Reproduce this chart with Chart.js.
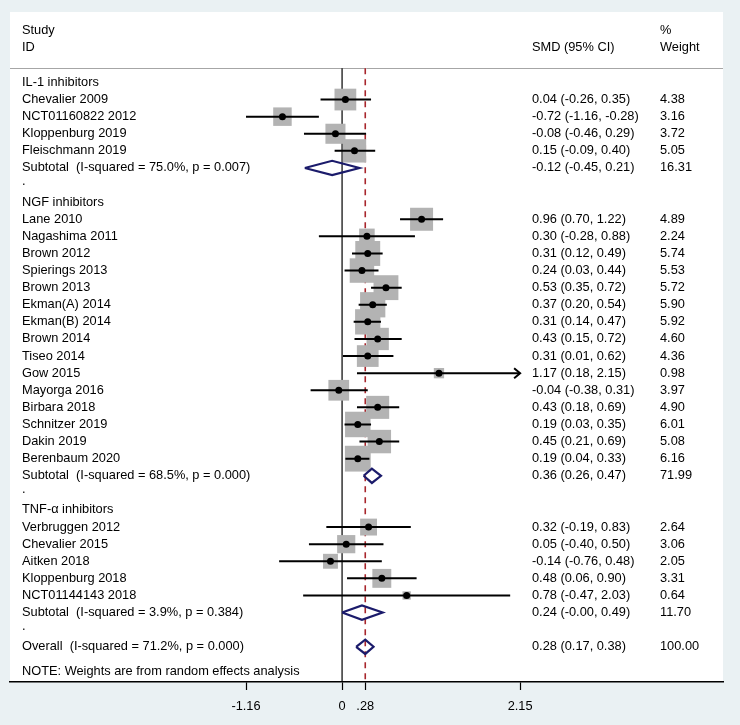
<!DOCTYPE html>
<html>
<head>
<meta charset="utf-8">
<script src="https://cdn.jsdelivr.net/npm/chart.js@4"></script>
<style>
  html, body { margin: 0; padding: 0; background: #eaf1f3; }
  canvas { display: block; }
</style>
</head>
<body>
<canvas id="forest" width="740" height="725"></canvas>
<script>
// 分组
const groupNames = ['IL-1 inhibitors', 'NGF inhibitors', 'TNF-α inhibitors'];
const subtotalLabels = [
    'Subtotal  (I-squared = 75.0%, p = 0.007)',
    'Subtotal  (I-squared = 68.5%, p = 0.000)',
    'Subtotal  (I-squared = 3.9%, p = 0.384)'
];
const subSmd = [-0.12, 0.36, 0.24];
const subLo = [-0.45, 0.26, -0.00];
const subHi = [0.21, 0.47, 0.49];
const subWeight = [16.31, 71.99, 11.70];

// 各研究
const studyNames = [
    'Chevalier 2009', 'NCT01160822 2012', 'Kloppenburg 2019', 'Fleischmann 2019',
    'Lane 2010', 'Nagashima 2011', 'Brown 2012', 'Spierings 2013', 'Brown 2013',
    'Ekman(A) 2014', 'Ekman(B) 2014', 'Brown 2014', 'Tiseo 2014', 'Gow 2015',
    'Mayorga 2016', 'Birbara 2018', 'Schnitzer 2019', 'Dakin 2019', 'Berenbaum 2020',
    'Verbruggen 2012', 'Chevalier 2015', 'Aitken 2018', 'Kloppenburg 2018', 'NCT01144143 2018'
];
const studyGroup = [0, 0, 0, 0, 1, 1, 1, 1, 1, 1, 1, 1, 1, 1, 1, 1, 1, 1, 1, 2, 2, 2, 2, 2];
const smd = [0.04, -0.72, -0.08, 0.15, 0.96, 0.30, 0.31, 0.24, 0.53, 0.37, 0.31, 0.43, 0.31, 1.17, -0.04, 0.43, 0.19, 0.45, 0.19, 0.32, 0.05, -0.14, 0.48, 0.78];
const lo = [-0.26, -1.16, -0.46, -0.09, 0.70, -0.28, 0.12, 0.03, 0.35, 0.20, 0.14, 0.15, 0.01, 0.18, -0.38, 0.18, 0.03, 0.21, 0.04, -0.19, -0.40, -0.76, 0.06, -0.47];
const hi = [0.35, -0.28, 0.29, 0.40, 1.22, 0.88, 0.49, 0.44, 0.72, 0.54, 0.47, 0.72, 0.62, 2.15, 0.31, 0.69, 0.35, 0.69, 0.33, 0.83, 0.50, 0.48, 0.90, 2.03];
const weight = [4.38, 3.16, 3.72, 5.05, 4.89, 2.24, 5.74, 5.53, 5.72, 5.90, 5.92, 4.60, 4.36, 0.98, 3.97, 4.90, 6.01, 5.08, 6.16, 2.64, 3.06, 2.05, 3.31, 0.64];

// 合并结果
const overallLabel = 'Overall  (I-squared = 71.2%, p = 0.000)';
const overallSmd = 0.28;
const overallLo = 0.17;
const overallHi = 0.38;
const overallWeight = 100.00;
const noteText = 'NOTE: Weights are from random effects analysis';

// 坐标轴刻度
const tickVals = [-1.16, 0, 0.28, 2.15];
const tickLabels = ['-1.16', '0', '.28', '2.15'];

const FONT = "'Liberation Sans', Arial, sans-serif";
const FONT_SIZE = 12.8;
const COL_STUDY = 22, COL_CI = 532, COL_W = 660;

// 行号
const headRow = [], subRow = [], dotRow = [], studyRow = [];
let r = 0;
groupNames.forEach((g, gi) => {
    headRow.push(r++);
    studyGroup.forEach((sg, si) => { if (sg === gi) studyRow[si] = r++; });
    subRow.push(r++);
    dotRow.push(r++);
});
const overallRow = r;
const noteRow = overallRow + 1.45;
const sepRow = -0.83;
const Y_MIN = -4.12, Y_MAX = 35.06;

function fmt(v) {
    return (Object.is(v, -0) ? '-' : '') + v.toFixed(2);
}
function ciText(e, l, h) {
    return `${fmt(e)} (${fmt(l)}, ${fmt(h)})`;
}
const boxSide = w => 10.4 * Math.sqrt(w);

const sumEst = subSmd.concat([overallSmd]);
const sumLo = subLo.concat([overallLo]);
const sumHi = subHi.concat([overallHi]);
const sumRow = subRow.concat([overallRow]);
const DH = 0.42;

const panelPlugin = {
    id: 'panel',
    beforeDraw(chart) {
        const { ctx, chartArea: a, scales: { y } } = chart;
        ctx.save();
        ctx.fillStyle = '#eaf1f3';
        ctx.fillRect(0, 0, chart.width, chart.height);
        ctx.fillStyle = '#ffffff';
        ctx.fillRect(a.left, a.top, a.right - a.left, a.bottom - a.top);
        const ys = Math.round(y.getPixelForValue(sepRow)) + 0.5;
        ctx.strokeStyle = '#a6a6a6';
        ctx.lineWidth = 1;
        ctx.beginPath();
        ctx.moveTo(a.left, ys);
        ctx.lineTo(a.right, ys);
        ctx.stroke();
        ctx.restore();
    }
};

const textPlugin = {
    id: 'forestText',
    afterDatasetsDraw(chart) {
        const { ctx, scales: { x, y } } = chart;
        ctx.save();
        // 箭头 (CI 超出刻度范围)
        const xMaxTick = Math.max(...tickVals);
        ctx.strokeStyle = '#000';
        ctx.lineWidth = 2;
        hi.forEach((h, i) => {
            if (h < xMaxTick) return;
            const px = x.getPixelForValue(h), py = y.getPixelForValue(studyRow[i]);
            ctx.beginPath();
            ctx.moveTo(px - 6, py - 5);
            ctx.lineTo(px, py);
            ctx.lineTo(px - 6, py + 5);
            ctx.stroke();
        });

        ctx.font = `${FONT_SIZE}px ${FONT}`;
        ctx.fillStyle = '#000';
        ctx.textBaseline = 'middle';
        ctx.textAlign = 'left';
        const put = (t, col, row) => ctx.fillText(t, col, y.getPixelForValue(row));
        put('Study', COL_STUDY, -3.05);
        put('ID', COL_STUDY, -2.05);
        put('SMD (95% CI)', COL_CI, -2.05);
        put('%', COL_W, -3.05);
        put('Weight', COL_W, -2.05);
        groupNames.forEach((g, gi) => {
            put(g, COL_STUDY, headRow[gi]);
            put(subtotalLabels[gi], COL_STUDY, subRow[gi]);
            put(ciText(subSmd[gi], subLo[gi], subHi[gi]), COL_CI, subRow[gi]);
            put(subWeight[gi].toFixed(2), COL_W, subRow[gi]);
            put('.', COL_STUDY, dotRow[gi] - 0.2);
        });
        studyNames.forEach((s, i) => {
            put(s, COL_STUDY, studyRow[i]);
            put(ciText(smd[i], lo[i], hi[i]), COL_CI, studyRow[i]);
            put(weight[i].toFixed(2), COL_W, studyRow[i]);
        });
        put(overallLabel, COL_STUDY, overallRow);
        put(ciText(overallSmd, overallLo, overallHi), COL_CI, overallRow);
        put(overallWeight.toFixed(2), COL_W, overallRow);
        put(noteText, COL_STUDY, noteRow);
        ctx.restore();
    }
};

new Chart(document.getElementById('forest'), {
    type: 'scatter',
    data: {
        datasets: [
            {   // 点估计
                type: 'scatter',
                data: smd.map((v, i) => ({ x: v, y: studyRow[i] })),
                pointStyle: 'circle', pointRadius: 3.5, pointBackgroundColor: '#000', pointBorderWidth: 0
            },
            {   // 置信区间
                type: 'line',
                data: smd.flatMap((v, i) => [{ x: lo[i], y: studyRow[i] }, { x: hi[i], y: studyRow[i] }, { x: null, y: null }]),
                borderColor: '#000', borderWidth: 2, pointRadius: 0, spanGaps: false, tension: 0
            },
            {   // 菱形
                type: 'line',
                data: sumEst.flatMap((e, k) => [
                    { x: sumLo[k], y: sumRow[k] }, { x: e, y: sumRow[k] - DH },
                    { x: sumHi[k], y: sumRow[k] }, { x: e, y: sumRow[k] + DH },
                    { x: sumLo[k], y: sumRow[k] }, { x: null, y: null }
                ]),
                borderColor: '#1b1b6b', borderWidth: 2.2, pointRadius: 0, spanGaps: false, tension: 0,
                borderJoinStyle: 'miter', fill: false
            },
            {   // 权重方框
                type: 'scatter',
                data: smd.map((v, i) => ({ x: v, y: studyRow[i] })),
                pointStyle: 'rect',
                pointRadius: c => boxSide(weight[c.dataIndex]) / Math.SQRT2,
                pointBackgroundColor: '#b3b3b3', pointBorderWidth: 0
            },
            {   // 合并效应虚线
                type: 'line',
                data: [{ x: overallSmd, y: sepRow }, { x: overallSmd, y: Y_MAX }],
                borderColor: '#a8262c', borderWidth: 1.6, borderDash: [6, 5], pointRadius: 0
            },
            {   // 无效线
                type: 'line',
                data: [{ x: 0, y: sepRow }, { x: 0, y: Y_MAX }],
                borderColor: '#000', borderWidth: 1.2, pointRadius: 0
            }
        ]
    },
    options: {
        responsive: false,
        animation: false,
        events: [],
        layout: { autoPadding: false, padding: { left: 10, right: 17, top: 12, bottom: 0 } },
        plugins: { legend: { display: false }, tooltip: { enabled: false } },
        scales: {
            x: {
                type: 'linear', min: -4.01, max: 4.60,
                afterBuildTicks: s => { s.ticks = tickVals.map(v => ({ value: v })); },
                afterFit: s => { s.height = 43; },
                grid: { drawOnChartArea: false, drawTicks: true, tickLength: 8, tickColor: '#000', tickWidth: 1.2 },
                border: { color: '#000', width: 1.4 },
                ticks: {
                    autoSkip: false, maxRotation: 0, padding: 9, color: '#000',
                    font: { family: FONT, size: FONT_SIZE },
                    callback: (v, i) => tickLabels[i]
                }
            },
            y: { type: 'linear', display: false, reverse: true, min: Y_MIN, max: Y_MAX }
        }
    },
    plugins: [panelPlugin, textPlugin]
});
</script>
</body>
</html>
